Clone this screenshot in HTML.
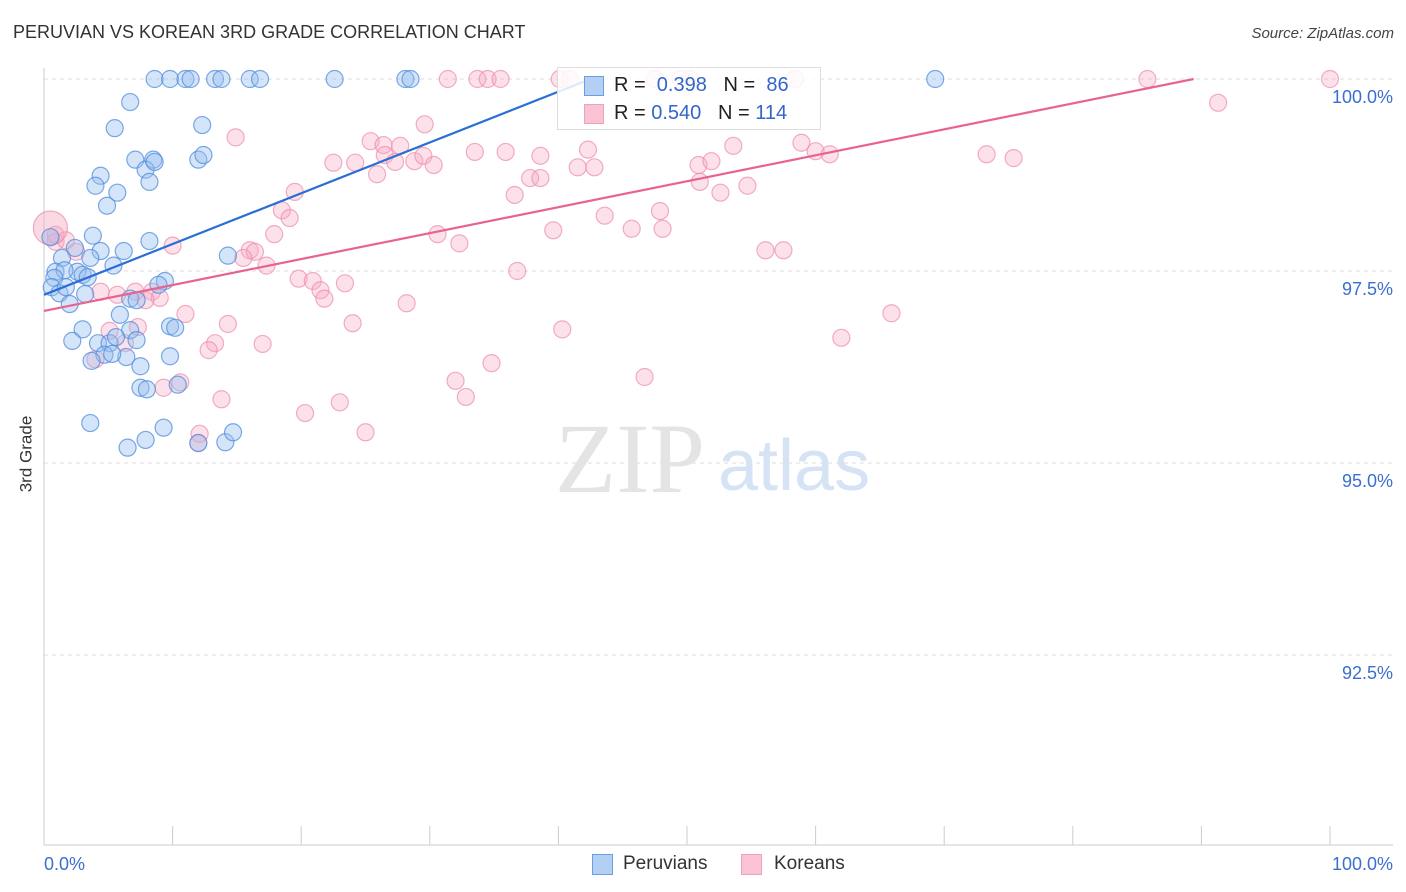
<!DOCTYPE html>
<html><head><meta charset="utf-8">
<style>
body{margin:0;background:#fff;font-family:"Liberation Sans",sans-serif;}
#wrap{position:relative;width:1406px;height:892px;overflow:hidden;}
.t{position:absolute;white-space:nowrap;}
</style></head>
<body>
<div id="wrap">
<div class="t" style="left:13px;top:22px;font-size:18px;color:#333;">PERUVIAN VS KOREAN 3RD GRADE CORRELATION CHART</div>
<div class="t" style="right:12px;top:25px;font-size:15px;color:#444;font-style:italic;">Source: ZipAtlas.com</div>
<div class="t" style="left:-12px;top:444px;font-size:17px;color:#333;transform:rotate(-90deg);">3rd Grade</div>
<svg id="svg" width="1406" height="892" style="position:absolute;left:0;top:0;"></svg>
<div class="t" style="left:557px;top:67px;width:262px;height:61px;border:1px solid #ddd;background:rgba(255,255,255,0.85);"></div>
<div class="t" style="left:584px;top:76px;width:18px;height:18px;background:#b3cff3;border:1px solid #6a9fe0;"></div>
<div class="t" style="left:584px;top:104px;width:18px;height:18px;background:#f9c3d3;border:1px solid #eda3ba;"></div>
<div class="t" style="left:614px;top:74px;font-size:20px;color:#222;">R = &nbsp;<span style="color:#3366cc">0.398</span> &nbsp;&nbsp;N = &nbsp;<span style="color:#3366cc">86</span></div>
<div class="t" style="left:614px;top:102px;font-size:20px;color:#222;">R = <span style="color:#3366cc">0.540</span> &nbsp;&nbsp;N = <span style="color:#3366cc">114</span></div>
<div class="t" style="left:592px;top:854px;width:19px;height:19px;background:#b3cff3;border:1px solid #6a9fe0;"></div>
<div class="t" style="left:623px;top:853px;font-size:19px;color:#333;">Peruvians</div>
<div class="t" style="left:741px;top:854px;width:19px;height:19px;background:#f9c3d3;border:1px solid #eda3ba;"></div>
<div class="t" style="left:774px;top:853px;font-size:19px;color:#333;">Koreans</div>
</div>
<script>
const yTicks=[100,97.5,95,92.5];
const yTickLabels=["100.0%","97.5%","95.0%","92.5%"];
const xEndLabels=["0.0%","100.0%"];
const blueX=[8.6,9.8,11.0,11.4,13.3,13.8,16.0,16.8,22.6,28.1,28.5,69.3,6.7,5.5,12.3,7.1,8.5,7.9,8.6,12.0,12.4,4.4,4.0,5.7,8.2,4.9,0.5,3.8,8.2,2.4,4.4,6.2,14.3,1.4,3.6,5.4,0.9,2.6,1.6,3.0,3.4,0.8,0.6,1.2,1.7,3.2,9.4,8.9,6.7,7.2,2.0,5.9,3.0,9.8,10.2,2.2,4.2,5.1,6.7,7.2,5.6,4.7,6.4,9.8,3.7,7.5,7.5,8.0,10.4,3.6,9.3,7.9,6.5,12.0,14.1,14.7,5.3];
const blueY=[100,100,100,100,100,100,100,100,100,100,100,100,99.70,99.36,99.40,98.95,98.95,98.82,98.92,98.95,99.01,98.74,98.61,98.52,98.66,98.35,97.94,97.96,97.89,97.80,97.76,97.76,97.70,97.67,97.67,97.57,97.49,97.49,97.51,97.45,97.42,97.41,97.29,97.21,97.29,97.20,97.37,97.32,97.14,97.12,97.07,96.93,96.74,96.78,96.76,96.59,96.56,96.56,96.73,96.60,96.64,96.41,96.38,96.39,96.33,96.26,95.98,95.96,96.02,95.52,95.46,95.30,95.20,95.26,95.27,95.40,96.42];
const pinkX=[40.1,40.9,31.4,33.7,34.5,35.5,47.5,50.2,85.8,100,58.4,49.5,91.3,14.9,29.6,25.4,26.4,27.7,26.5,22.5,24.2,27.3,28.8,29.5,30.3,33.5,35.9,38.6,42.3,41.5,42.8,25.9,37.8,38.6,36.6,50.9,51.9,51.0,52.6,54.7,53.6,58.9,60.0,61.1,73.3,75.4,19.5,18.5,19.1,17.9,30.6,32.3,39.6,43.6,45.7,47.9,48.1,10.0,16.0,16.4,15.5,17.3,36.8,56.1,57.5,19.8,20.9,23.4,21.5,21.8,28.2,4.4,5.7,7.1,8.4,9.0,11.0,7.9,14.3,24.0,40.3,65.9,62.0,13.3,17.0,5.1,7.3,6.3,12.8,4.0,10.6,9.3,13.8,20.3,23.0,25.0,32.0,32.8,34.8,46.7,12.1,12.0,0.9,1.7,2.5,0.9];
const pinkY=[100,100,100,100,100,100,100,100,100,100,100,100,99.69,99.24,99.41,99.19,99.14,99.13,99.01,98.91,98.91,98.92,98.93,99.00,98.88,99.05,99.05,99.00,99.08,98.85,98.85,98.76,98.71,98.71,98.49,98.88,98.93,98.66,98.52,98.61,99.13,99.17,99.06,99.02,99.02,98.97,98.53,98.29,98.19,97.98,97.98,97.86,98.03,98.22,98.05,98.28,98.05,97.83,97.77,97.75,97.67,97.57,97.50,97.77,97.77,97.40,97.37,97.34,97.25,97.14,97.08,97.23,97.19,97.23,97.23,97.15,96.94,97.12,96.81,96.82,96.74,96.95,96.63,96.56,96.55,96.72,96.77,96.56,96.47,96.35,96.05,95.98,95.83,95.65,95.79,95.40,96.07,95.86,96.30,96.12,95.38,95.26,97.88,97.90,97.75,97.97];
const bigPink=[0.5,98.06];
const blueTrend=[0,97.19,42.5,100];
const pinkTrend=[0,96.98,89.4,100];

const NS="http://www.w3.org/2000/svg";
const svg=document.getElementById('svg');
const X=v=>44+v*12.86;
const Y=v=>79+(100-v)*76.8;
function mk(tag,attrs){const e=document.createElementNS(NS,tag);for(const k in attrs)e.setAttribute(k,attrs[k]);svg.appendChild(e);return e;}

// gridlines + y labels
yTicks.forEach((t,i)=>{
  const g=mk('line',{x1:44,x2:1393,y1:Y(t),y2:Y(t),stroke:'#ddd','stroke-dasharray':'4,4'});
  
  
  const tx=mk('text',{x:1393,y:Y(t)+24,'text-anchor':'end','font-size':18,fill:'#3a6fd0','font-family':'Liberation Sans, sans-serif'});
  tx.textContent=yTickLabels[i];
  
  
});
// axes
const ax=mk('line',{x1:44,x2:44,y1:68,y2:845,stroke:'#ccc'});


const bx=mk('line',{x1:44,x2:1393,y1:845,y2:845,stroke:'#ccc'});


for(let i=0;i<=10;i++){
  const tk=mk('line',{x1:X(i*10),x2:X(i*10),y1:826,y2:845,stroke:'#ccc'});
  
  
}
const xl0=mk('text',{x:44,y:870,'font-size':18,fill:'#3a6fd0','font-family':'Liberation Sans, sans-serif'});
xl0.textContent=xEndLabels[0];


const xl1=mk('text',{x:1393,y:870,'text-anchor':'end','font-size':18,fill:'#3a6fd0','font-family':'Liberation Sans, sans-serif'});
xl1.textContent=xEndLabels[1];


// watermark
const w1=mk('text',{x:555,y:492,'font-size':100,fill:'#e4e4e4','font-family':'Liberation Serif, serif'});
w1.textContent='ZIP';


const w2=mk('text',{x:718,y:490,'font-size':72,fill:'#d6e3f5','font-family':'Liberation Sans, sans-serif'});
w2.textContent='atlas';


// points
pinkX.forEach((v,i)=>{
  const c=mk('circle',{cx:X(v),cy:Y(pinkY[i]),r:8.5,fill:'rgba(246,170,194,0.35)',stroke:'rgba(236,140,170,0.7)','stroke-width':1.2});
  
  
});
const bp=mk('circle',{cx:X(bigPink[0]),cy:Y(bigPink[1]),r:17,fill:'rgba(246,170,194,0.45)',stroke:'rgba(236,140,170,0.7)','stroke-width':1.2});


blueX.forEach((v,i)=>{
  const c=mk('circle',{cx:X(v),cy:Y(blueY[i]),r:8.5,fill:'rgba(150,190,240,0.4)',stroke:'rgba(80,140,220,0.75)','stroke-width':1.2});
  
  
});
// trend lines
const tb=mk('line',{x1:X(blueTrend[0]),y1:Y(blueTrend[1]),x2:X(blueTrend[2]),y2:Y(blueTrend[3]),stroke:'#2a6fd6','stroke-width':2.2});


const tp=mk('line',{x1:X(pinkTrend[0]),y1:Y(pinkTrend[1]),x2:X(pinkTrend[2]),y2:Y(pinkTrend[3]),stroke:'#e8648f','stroke-width':2.2});


</script>
</body></html>
